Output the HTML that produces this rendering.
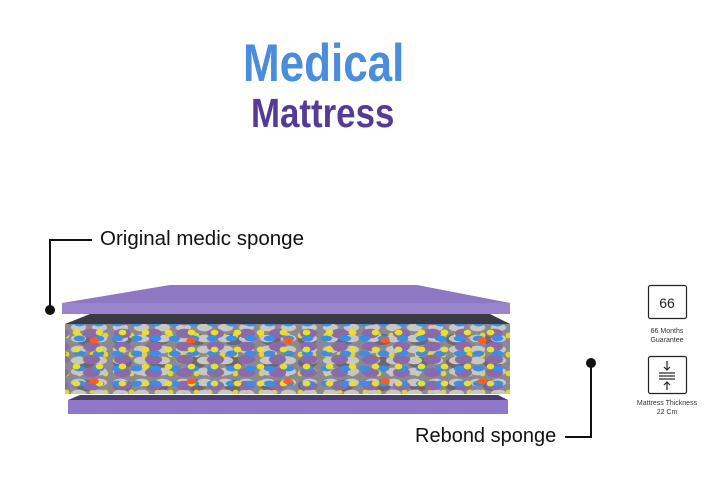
<!DOCTYPE html>
<html><head><meta charset="utf-8"><style>
body{margin:0;width:709px;height:491px;background:#fff;position:relative;overflow:hidden;font-family:"Liberation Sans",sans-serif}
.t{position:absolute;white-space:nowrap;font-weight:bold;transform-origin:0 0}
.foam{position:absolute;left:65px;top:324px;width:445px;height:70px;
background:
radial-gradient(ellipse 5px 3px at 30% 40%,#ff5a20 90%,transparent 100%) 0 0/97px 41px,
radial-gradient(ellipse 4px 3px at 50% 50%,#e8e030 90%,transparent 100%) 0 0/23px 17px,
radial-gradient(ellipse 6px 3px at 50% 50%,#3a8ee8 90%,transparent 100%) 5px 7px/19px 15px,
radial-gradient(ellipse 9px 5px at 50% 50%,#8a6aa8 90%,transparent 100%) 11px 3px/31px 13px,
radial-gradient(ellipse 8px 4px at 50% 50%,#c8c8c0 90%,transparent 100%) 3px 9px/21px 11px,
radial-gradient(ellipse 3px 3px at 50% 50%,#e4d820 90%,transparent 100%) 8px 2px/13px 19px,
radial-gradient(ellipse 10px 6px at 50% 50%,#6e6670 90%,transparent 100%) 2px 4px/37px 23px,
#8a8890;}
</style></head><body>
<div class="t" style="left:243px;top:33px;font-size:53px;color:#4a8ddc;transform:scaleX(0.83)">Medical</div>
<div class="t" style="left:251px;top:90px;font-size:41px;color:#553a96;transform:scaleX(0.85)">Mattress</div>

<svg width="709" height="491" style="position:absolute;left:0;top:0">
<polyline points="92,240 50,240 50,310" fill="none" stroke="#111" stroke-width="2"/>
<circle cx="50" cy="310" r="5" fill="#111"/>
<polyline points="565,437 591,437 591,363" fill="none" stroke="#111" stroke-width="2"/>
<circle cx="591" cy="363" r="5" fill="#111"/>
<polygon points="170,285 417,285 510,303 62,303" fill="#8e78c4"/>
<rect x="62" y="303" width="448" height="11" fill="#9a84cc"/>
<polygon points="65,324 90,314 490,314 510,324" fill="#3a3a44"/>
<polygon points="68,400 80,395 498,395 508,400" fill="#4a3e6a"/>
<rect x="68" y="400" width="440" height="14" fill="#8f78c8"/>
<rect x="648.5" y="285.5" width="38" height="33" rx="2" fill="none" stroke="#222" stroke-width="1.2"/>
<text x="667" y="308" font-size="14" text-anchor="middle" fill="#222" font-family="Liberation Sans">66</text>
<text x="667" y="333" font-size="7" text-anchor="middle" fill="#333" font-family="Liberation Sans">66 Months</text>
<text x="667" y="342" font-size="7" text-anchor="middle" fill="#333" font-family="Liberation Sans">Guarantee</text>
<rect x="648.5" y="356.5" width="38" height="37" rx="2" fill="none" stroke="#222" stroke-width="1.2"/>
<g stroke="#222" stroke-width="1.2" fill="none">
<line x1="667" y1="361" x2="667" y2="370"/><polyline points="664,367 667,370 670,367"/>
<line x1="659" y1="373" x2="675" y2="373"/><line x1="659" y1="376" x2="675" y2="376"/><line x1="659" y1="379" x2="675" y2="379"/>
<line x1="667" y1="382" x2="667" y2="390"/><polyline points="664,385 667,382 670,385"/>
</g>
<text x="667" y="405" font-size="7" text-anchor="middle" fill="#333" font-family="Liberation Sans">Mattress Thickness</text>
<text x="667" y="414" font-size="7" text-anchor="middle" fill="#333" font-family="Liberation Sans">22 Cm</text>
</svg>
<div class="foam"></div>
<div class="t" style="left:100px;top:227px;font-size:20.5px;font-weight:normal;color:#111">Original medic sponge</div>
<div class="t" style="left:415px;top:425px;font-size:20px;font-weight:normal;color:#111">Rebond sponge</div>
</body></html>
